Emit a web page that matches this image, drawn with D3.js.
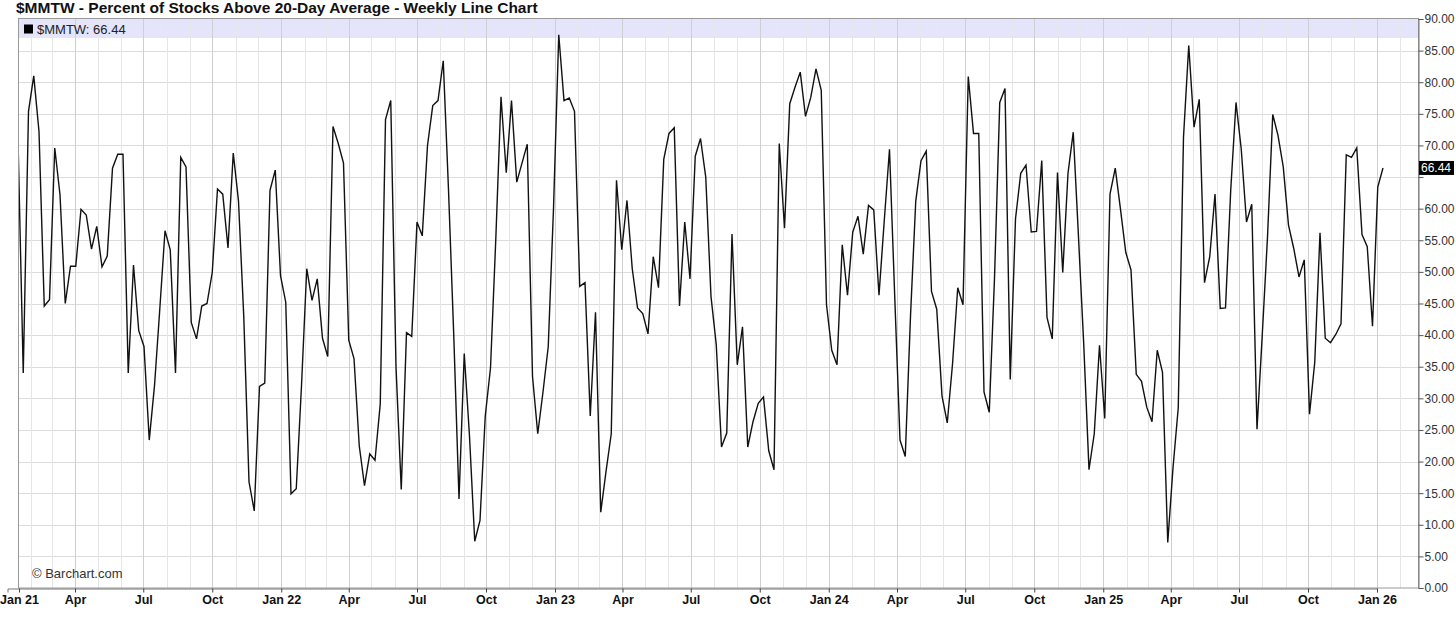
<!DOCTYPE html>
<html>
<head>
<meta charset="utf-8">
<script src="https://cdn.jsdelivr.net/npm/d3@7"></script>
<style>
  body { margin: 0; background: #fff; }
  svg { display: block; font-family: 'Liberation Sans', Arial, sans-serif; }
</style>
</head>
<body>
<svg id="chart" width="1456" height="623"></svg>
<script>
// weekly readings, one per friday, starting 15 Jan 2021
const vals2021 = [71, 34.0, 75.4, 81.0, 72.2, 44.6, 45.6, 69.6, 62.2, 45.0, 50.9, 50.9, 59.9, 59.0, 53.6, 57.2, 50.8, 52.5, 66.4, 68.6, 68.6, 34.0, 51.1, 40.7, 38.2, 23.4, 32, 44, 56.5, 53.5, 34.0, 68.1, 66.6, 42.0, 39.4, 44.6, 45.0, 49.9, 63.1, 62.3, 53.8, 68.8, 61.2, 43, 16.8, 12.2, 31.9, 32.4, 62.9, 66.1, 49.4]
const vals2022 = [45.2, 14.9, 15.7, 32, 50.5, 45.5, 48.9, 39.5, 36.6, 73.0, 70.3, 67.2, 39.2, 36.3, 22.5, 16.2, 21.2, 20.2, 29.1, 74.1, 77.1, 35, 15.6, 40.4, 39.8, 57.9, 55.7, 70.0, 76.3, 77.1, 83.4, 63, 40, 14.1, 37.1, 24, 7.4, 10.7, 27.2, 34.8, 55, 77.7, 65.7, 77.1, 64.2, 67.2, 70.2, 33.5, 24.4, 31.0, 38.2, 60]
const vals2023 = [87.5, 77.1, 77.5, 75.4, 47.7, 48.3, 27.2, 43.6, 12.0, 18.4, 24.4, 64.5, 53.5, 61.3, 50.5, 44.3, 43.4, 40.2, 52.4, 47.5, 67.8, 71.9, 72.8, 44.6, 57.9, 48.9, 68.3, 71.1, 65.0, 46.1, 38.5, 22.3, 24.5, 56.0, 35.3, 41.3, 22.3, 26.3, 29.2, 30.2, 21.7, 18.7, 70.3, 56.9, 76.6, 79.2, 81.6, 74.6, 77.6, 82.1, 78.7, 44.8]
const vals2024 = [37.6, 35.3, 54.3, 46.3, 56.3, 58.8, 52.8, 60.5, 59.8, 46.3, 58.1, 69.4, 46, 23.4, 20.8, 43, 61.2, 67.6, 69.1, 46.9, 44.1, 30.4, 26.1, 35.4, 47.5, 44.8, 80.9, 71.9, 71.9, 31.0, 27.8, 49, 76.8, 79.0, 33.0, 58.4, 65.6, 66.9, 56.3, 56.4, 67.6, 42.8, 39.4, 65.7, 49.9, 65.6, 72.1, 55.5, 38.5, 18.7, 24.4, 38.4]
const vals2025 = [26.8, 62.3, 66.4, 59.9, 53.1, 50.3, 33.8, 32.7, 28.6, 26.3, 37.6, 34.1, 7.2, 19, 28.5, 71.3, 85.8, 72.9, 77.3, 48.3, 52.4, 62.3, 44.2, 44.3, 63, 76.8, 69.4, 57.9, 60.7, 25.1, 40, 55.5, 74.9, 71.6, 66.6, 57.4, 53.7, 49.2, 51.9, 27.5, 35.7, 56.2, 39.5, 38.8, 40.1, 41.8, 68.5, 68.1, 69.6, 55.9, 54.0, 41.4]
const vals2026 = [63.4, 66.44]

const yTicks = [0, 5, 10, 15, 20, 25, 30, 35, 40, 45, 50, 55, 60, 65, 70, 75, 80, 85, 90]
const xTickLabels = ['Jan 21', 'Apr', 'Jul', 'Oct', 'Jan 22', 'Apr', 'Jul', 'Oct', 'Jan 23', 'Apr', 'Jul', 'Oct',
  'Jan 24', 'Apr', 'Jul', 'Oct', 'Jan 25', 'Apr', 'Jul', 'Oct', 'Jan 26']

const title = '$MMTW - Percent of Stocks Above 20-Day Average - Weekly Line Chart'
const symbol = '$MMTW'

let values = [].concat(vals2021, vals2022, vals2023, vals2024, vals2025, vals2026)
let start = new Date(2021, 0, 15)
let data = values.map((v, i) => ({ date: d3.timeDay.offset(start, i * 7), value: v }))
let last = data[data.length - 1]

let plotLeft = 18
let plotRight = 1418
let plotTop = 19
let plotBottom = 588

let svg = d3.select('#chart')

let x = d3.scaleTime()
  .domain([new Date(2021, 0, 1), new Date(2026, 0, 1)])
  .range([7.5, 1377])

let y = d3.scaleLinear()
  .domain([0, 90])
  .range([plotBottom, plotTop])

// first tick sits on the left edge, the rest on quarter starts
let xTickDates = [x.invert(plotLeft + 1)].concat(
  d3.timeMonth.every(3).range(new Date(2021, 3, 1), new Date(2026, 1, 1)))

svg.append('defs').append('clipPath')
  .attr('id', 'plot')
  .append('rect')
  .attr('x', plotLeft)
  .attr('y', plotTop)
  .attr('width', plotRight - plotLeft)
  .attr('height', plotBottom - plotTop)

svg.append('text')
  .text(title)
  .attr('x', 16)
  .attr('y', 12.5)
  .attr('font-size', 15.5)
  .attr('font-weight', 'bold')
  .attr('fill', '#111')

// legend band
svg.append('rect')
  .attr('x', plotLeft)
  .attr('y', plotTop)
  .attr('width', plotRight - plotLeft)
  .attr('height', 19)
  .attr('fill', '#e4e4fa')

let grid = svg.append('g')

grid.selectAll('line.h')
  .data(yTicks.slice(1, -1))
  .enter()
  .append('line')
  .attr('x1', plotLeft)
  .attr('x2', plotRight)
  .attr('y1', d => Math.round(y(d)) + 0.5)
  .attr('y2', d => Math.round(y(d)) + 0.5)
  .attr('stroke', '#dcdcdc')

let months = d3.timeMonth.range(x.invert(plotLeft), x.invert(plotRight))
grid.selectAll('line.v')
  .data(months)
  .enter()
  .append('line')
  .attr('x1', d => Math.round(x(d)) + 0.5)
  .attr('x2', d => Math.round(x(d)) + 0.5)
  .attr('y1', plotTop)
  .attr('y2', plotBottom)
  .attr('stroke', d => d.getMonth() % 3 === 0 ? '#cfcfcf' : '#e6e6e6')

svg.append('rect')
  .attr('x', 24)
  .attr('y', 24.5)
  .attr('width', 9)
  .attr('height', 9)
  .attr('fill', '#000')

svg.append('text')
  .text(symbol + ': ' + last.value.toFixed(2))
  .attr('x', 37)
  .attr('y', 33.5)
  .attr('font-size', 13)
  .attr('fill', '#222')

svg.append('text')
  .text('\u00a9 Barchart.com')
  .attr('x', 32)
  .attr('y', 578)
  .attr('font-size', 13)
  .attr('fill', '#333')

let line = d3.line()
  .x(d => x(d.date))
  .y(d => y(d.value))

svg.append('path')
  .datum(data)
  .attr('clip-path', 'url(#plot)')
  .attr('d', line)
  .attr('fill', 'none')
  .attr('stroke', '#111')
  .attr('stroke-width', 1.4)
  .attr('stroke-linejoin', 'miter')

// frame
svg.append('rect')
  .attr('x', plotLeft + 0.5)
  .attr('y', plotTop - 0.5)
  .attr('width', plotRight - plotLeft)
  .attr('height', plotBottom - plotTop + 0.5)
  .attr('fill', 'none')
  .attr('stroke', '#999')

let yAxis = svg.append('g')
  .attr('transform', 'translate(' + (plotRight + 0.5) + ',0)')
  .call(d3.axisRight(y)
    .tickValues(yTicks)
    .tickFormat(d3.format('.2f'))
    .tickSize(5)
    .tickPadding(1))

yAxis.select('.domain').attr('stroke', '#777')
yAxis.selectAll('.tick line').attr('stroke', '#555')
yAxis.selectAll('.tick text')
  .attr('font-size', 12)
  .attr('font-family', "'Liberation Sans', Arial, sans-serif")
  .attr('fill', '#333')
  // the last value tag covers the label under it
  .attr('display', d => Math.abs(y(d) - y(last.value)) < 12 ? 'none' : null)

let xAxis = svg.append('g')
  .attr('transform', 'translate(0,' + (plotBottom + 0.5) + ')')
  .call(d3.axisBottom(x)
    .tickValues(xTickDates)
    .tickFormat((d, i) => xTickLabels[i])
    .tickSize(4)
    .tickPadding(3))

xAxis.select('.domain').attr('stroke', '#777')
xAxis.selectAll('.tick line').attr('stroke', '#444')
xAxis.selectAll('.tick text')
  .attr('font-size', 12.5)
  .attr('font-weight', 'bold')
  .attr('font-family', "'Liberation Sans', Arial, sans-serif")
  .attr('fill', '#111')

// last value tag
let tag = svg.append('g')
  .attr('transform', 'translate(' + (plotRight + 1) + ',' + y(last.value) + ')')

tag.append('rect')
  .attr('x', 0)
  .attr('y', -7)
  .attr('width', 35)
  .attr('height', 14)
  .attr('fill', '#000')

tag.append('text')
  .text(last.value.toFixed(2))
  .attr('x', 2)
  .attr('y', 4.5)
  .attr('font-size', 12)
  .attr('fill', '#fff')
</script>
</body>
</html>
